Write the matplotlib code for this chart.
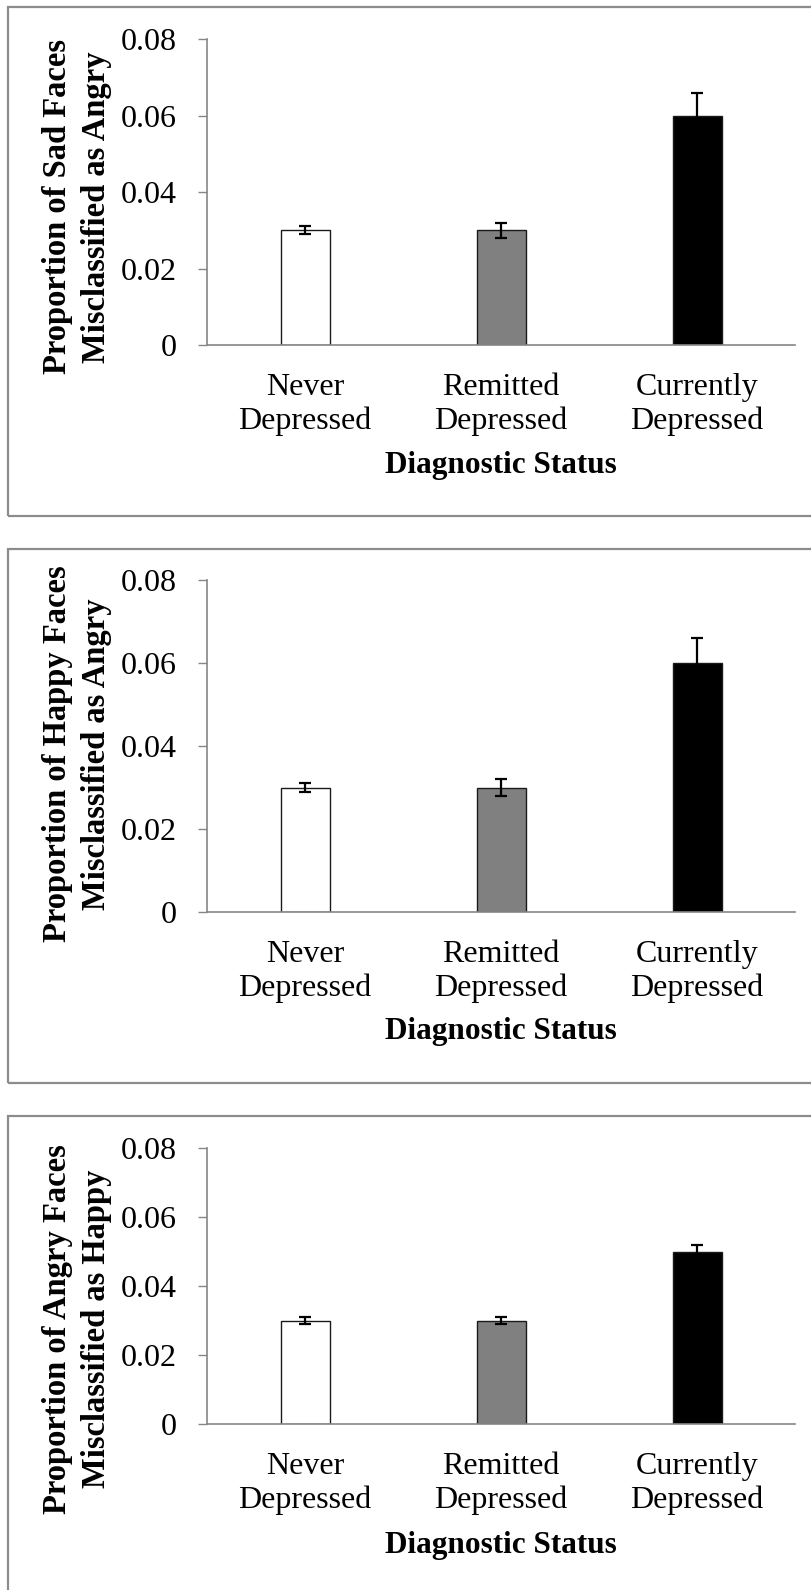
import matplotlib.pyplot as plt
from matplotlib.patches import Rectangle

plt.rcParams['font.family'] = ['Liberation Serif', 'DejaVu Serif']

# Данные
categories = ['Never\nDepressed', 'Remitted\nDepressed', 'Currently\nDepressed']
bar_colors = ['white', '#808080', 'black']
y_ticks = [0, 0.02, 0.04, 0.06, 0.08]
y_tick_labels = ['0', '0.02', '0.04', '0.06', '0.08']

ylabels = ['Proportion of Sad Faces\nMisclassified as Angry',
           'Proportion of Happy Faces\nMisclassified as Angry',
           'Proportion of Angry Faces\nMisclassified as Happy']
means = [[0.03, 0.03, 0.06],
         [0.03, 0.03, 0.06],
         [0.03, 0.03, 0.05]]
errors = [[0.001, 0.002, 0.006],
          [0.001, 0.002, 0.006],
          [0.001, 0.001, 0.002]]

W, H = 811, 1590
fig = plt.figure(figsize=(W / 100, H / 100), dpi=100)

# пиксельная раскладка панелей: (верх рамки, низ рамки, верх осей, низ осей, y подписи оси x, центр ylabel)
panels = [(7, 516, 39, 345, 465, 207),
          (549, 1083, 580, 912, 1032, 754),
          (1116, 1650, 1148, 1424, 1546, 1329)]
ax_left, ax_right = 207, 795
axis_gray = '#868686'

for i, (b_top, b_bot, a_top, a_bot, xl_y, yl_c) in enumerate(panels):
    # рамка вокруг панели
    fig.patches.append(Rectangle((8 / W, 1 - b_bot / H), (W + 20 - 8) / W, (b_bot - b_top) / H,
                                 transform=fig.transFigure, fill=False,
                                 edgecolor='#8c8c8c', linewidth=1.6))
    ax = fig.add_axes([ax_left / W, 1 - a_bot / H, (ax_right - ax_left) / W, (a_bot - a_top) / H])
    x = range(len(categories))
    ax.bar(x, means[i], width=0.25, color=bar_colors, edgecolor='#1a1a1a', linewidth=1.0, zorder=2)
    ax.errorbar(x, means[i], yerr=errors[i], fmt='none', ecolor='black',
                elinewidth=1.6, capsize=4.5, capthick=1.6, zorder=3)
    ax.set_xlim(-0.5, 2.5)
    ax.set_ylim(0, 0.08)
    ax.set_yticks(y_ticks)
    ax.set_yticklabels(y_tick_labels, fontsize=23)
    ax.set_xticks(list(x))
    ax.set_xticklabels(categories, fontsize=23, linespacing=1.2)
    ax.tick_params(axis='x', length=0, pad=20)
    ax.tick_params(axis='y', length=6.5, width=1, color=axis_gray, direction='out', pad=15)
    for s in ['top', 'right']:
        ax.spines[s].set_visible(False)
    for s in ['left', 'bottom']:
        ax.spines[s].set_color(axis_gray)
        ax.spines[s].set_linewidth(1.2)
    ax.set_facecolor('none')

    fig.text(77 / W, 1 - yl_c / H, ylabels[i], rotation=90, ha='center', va='center',
             fontsize=23.5, fontweight='bold', linespacing=1.3)
    fig.text(501 / W, 1 - xl_y / H, 'Diagnostic Status', ha='center', va='center',
             fontsize=22.5, fontweight='bold')

plt.savefig('out.png', dpi=100)
plt.close()
